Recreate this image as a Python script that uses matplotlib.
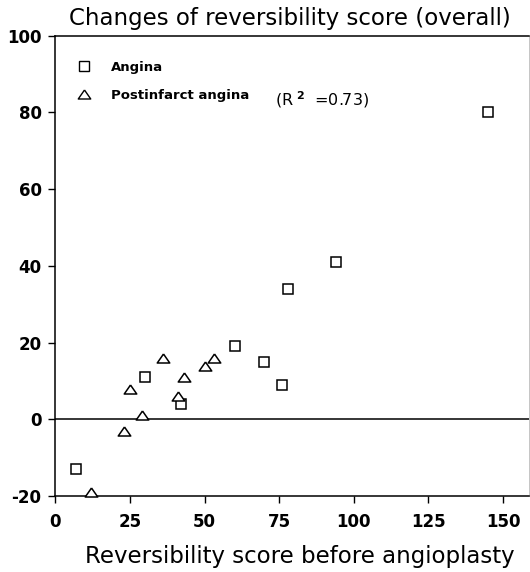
import matplotlib.pyplot as plt
from matplotlib.lines import Line2D

# データ
angina_x = [7, 30, 42, 60, 70, 76, 78, 94, 145]
angina_y = [-13, 11, 4, 19, 15, 9, 34, 41, 80]
postinf_x = [12, 23, 25, 29, 36, 41, 43, 50, 53]
postinf_y = [-19, -3, 8, 1, 16, 6, 11, 14, 16]

x_ticks = [0, 25, 50, 75, 100, 125, 150]
y_ticks = [-20, 0, 20, 40, 60, 80, 100]
r2_text = r'(R$^{\ \mathbf{2}}$  =0.73)'

plt.rcParams['font.family'] = ['DejaVu Sans']
plt.rcParams['axes.unicode_minus'] = False

# 横長の三角形マーカー
tri = [(0, 0.72), (-1, -0.72), (1, -0.72), (0, 0.72)]

fig = plt.figure(figsize=(5.3, 5.72), dpi=100)
ax = fig.add_axes([0.1047, 0.1329, 0.8934, 0.8047])

ax.axhline(0, color='black', lw=1.1, zorder=1)

ax.plot(angina_x, angina_y, ls='none', marker='s', ms=6.5, mfc='white',
        mec='black', mew=1.1, clip_on=False, zorder=3, label='Angina')
ax.plot(postinf_x, postinf_y, ls='none', marker=tri, ms=9, mfc='white',
        mec='black', mew=1.1, clip_on=False, zorder=3, label='Postinfarct angina')

ax.set_xlim(0, 158.7)
ax.set_ylim(-20, 100)
ax.set_xticks(x_ticks)
ax.set_yticks(y_ticks)
ax.tick_params(direction='out', length=5, width=1, labelsize=12, pad=5)
ax.tick_params(axis='x', pad=7)
for lab in ax.get_xticklabels() + ax.get_yticklabels():
    lab.set_fontweight('bold')

for s in ['left', 'bottom', 'top']:
    ax.spines[s].set_linewidth(1.1)
ax.spines['right'].set_linewidth(0.6)
ax.spines['right'].set_color('#bbbbbb')

# 凡例
handles = [
    Line2D([], [], ls='none', marker='s', ms=6.5, mfc='white', mec='black', mew=1.0),
    Line2D([], [], ls='none', marker=tri, ms=9, mfc='white', mec='black', mew=1.0),
]
ax.legend(handles, ['Angina', 'Postinfarct angina'], loc='upper left',
          bbox_to_anchor=(0.044, 0.946), borderaxespad=0, borderpad=0,
          frameon=False, handlelength=1.2, handletextpad=1.4,
          labelspacing=1.15, prop={'size': 9.5, 'weight': 'bold'})
ax.text(0.464, 0.862, r2_text, transform=ax.transAxes, fontsize=11.5,
        va='center', ha='left')

fig.text(0.547, 1 - 18 / 572, 'Changes of reversibility score (overall)',
         ha='center', va='center', fontsize=16.5)
fig.text(0.566, 1 - 556 / 572, 'Reversibility score before angioplasty',
         ha='center', va='center', fontsize=16.5)

plt.savefig('out.png', dpi=100)
